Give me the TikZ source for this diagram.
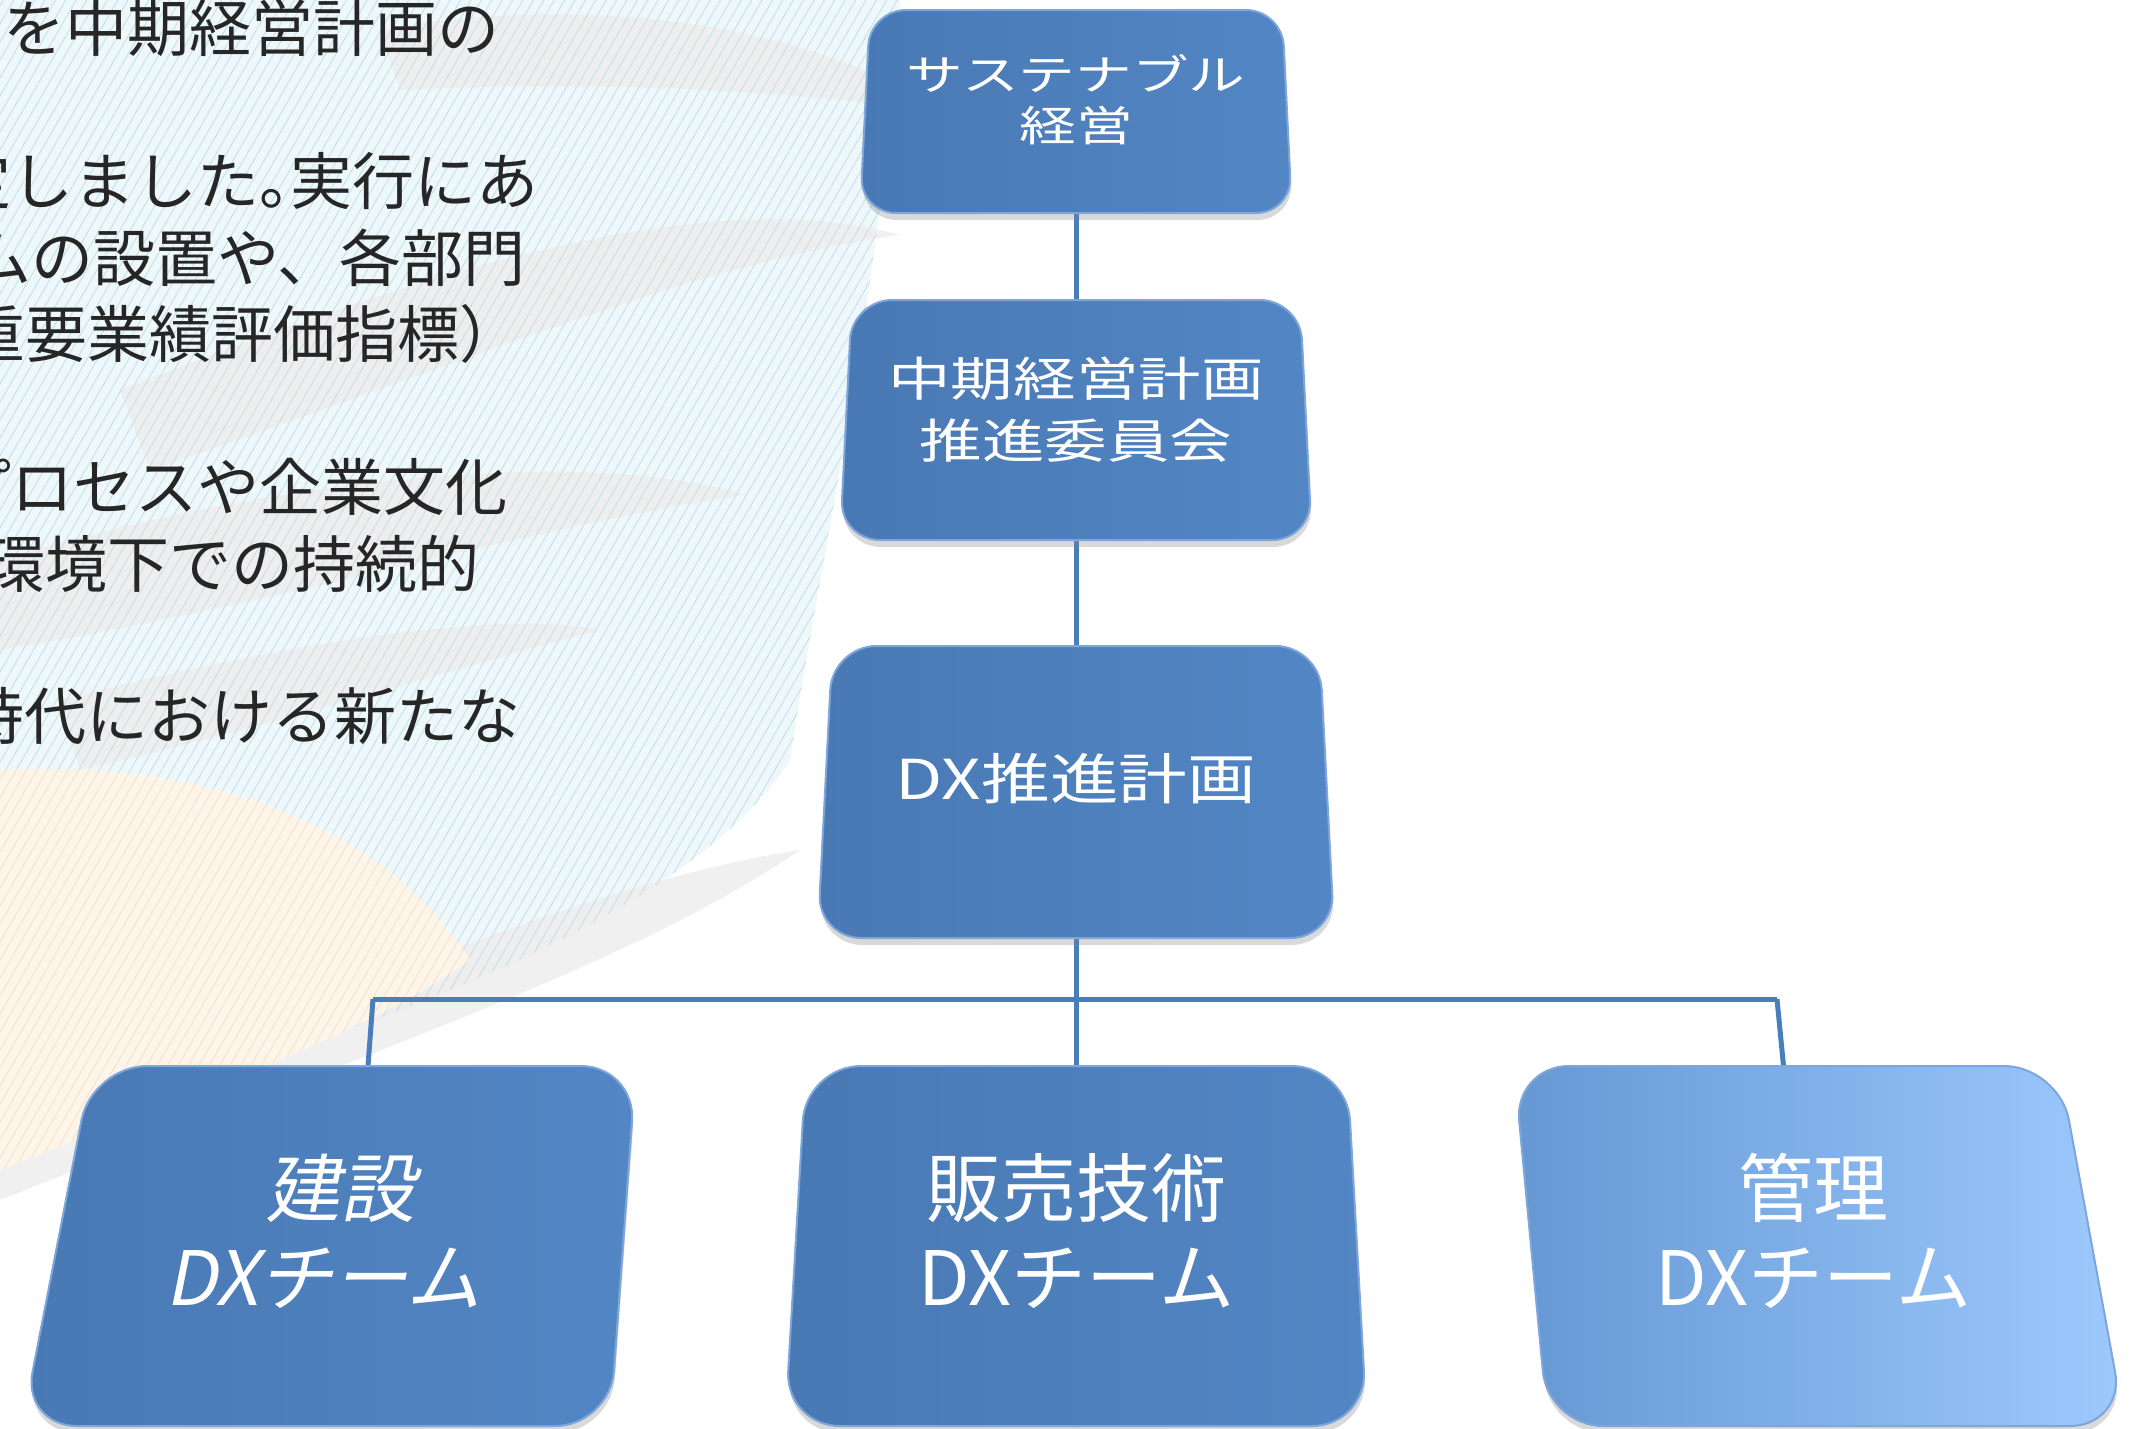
\documentclass[tikz,border=0pt]{standalone}
\usepackage{fontspec}
\setmainfont{Noto Sans CJK JP}
\usetikzlibrary{calc,shadows,patterns.meta}

\definecolor{linkblue}{HTML}{4A7EBB}
\definecolor{boxblue}{HTML}{4979B4}
\definecolor{boxblueR}{HTML}{5286C4}
\definecolor{skyL}{HTML}{6598D3}
\definecolor{skyR}{HTML}{9DC9FE}
\definecolor{rimblue}{HTML}{7EA6DA}
\definecolor{bodygray}{HTML}{262626}
\definecolor{washblue}{HTML}{EEF7F9}
\definecolor{washgray}{HTML}{EEEEEE}
\definecolor{washorange}{HTML}{FEF5EA}
\definecolor{hatchblue}{HTML}{BBDCE4}
\definecolor{hatchorange}{HTML}{F5DDBD}

% bevelled box drawn round an (invisible) node: name, tl, tr, br, bl shifts, radius, colours
\newcommand{\orgbox}[8]{%
  \path[boxbody, rounded corners=#6pt, left color=#7, right color=#8]
    ($(#1.north west)+(#2,0)$) -- ($(#1.north east)+(#3,0)$) --
    ($(#1.south east)+(#4,0)$) -- ($(#1.south west)+(#5,0)$) -- cycle;}

\begin{document}
\begin{tikzpicture}[x=1pt, y=-1pt,
  link/.style={draw=linkblue, line width=5pt},
  boxgeo/.style={inner sep=0pt, outer sep=0pt},
  boxbody/.style={drop shadow={shadow xshift=1pt, shadow yshift=-7pt, opacity=.3},
    draw=rimblue, line width=2pt},
  boxtxt/.style={text=white, align=center, inner sep=0pt},
  bodytxt/.style={text=bodygray, anchor=east, inner sep=0pt,
    font=\fontsize{62}{62}\selectfont}]
\path[use as bounding box] (0,0) rectangle (2148,1428);
\clip (0,0) rectangle (2148,1428);

%background wash
\fill[washblue] (0,0) -- (900,0) .. controls (880,300) and (820,560) .. (790,760)
  .. controls (700,900) and (450,1000) .. (200,1080) .. controls (120,1110) and (50,1140) .. (0,1150) -- cycle;
\begin{scope}[fill=washgray, opacity=.9]
\fill (380,30) .. controls (600,-10) and (820,30) .. (940,110) .. controls (760,90) and (600,80) .. (400,90) -- cycle;
\fill (120,390) .. controls (400,280) and (700,180) .. (900,235) .. controls (700,260) and (420,380) .. (150,470) -- cycle;
\fill (0,560) .. controls (300,470) and (600,450) .. (745,495) .. controls (560,520) and (300,600) .. (0,650) -- cycle;
\fill (60,700) .. controls (300,640) and (500,610) .. (600,630) .. controls (480,660) and (300,720) .. (80,770) -- cycle;
\fill (0,1160) .. controls (300,1000) and (600,880) .. (800,850) .. controls (640,960) and (400,1040) .. (0,1200) -- cycle;
\end{scope}
\fill[pattern={Lines[angle=60, distance=9pt, line width=.7pt]}, pattern color=hatchblue]
  (0,0) -- (900,0) .. controls (880,300) and (820,560) .. (790,760)
  .. controls (700,900) and (450,1000) .. (200,1080) .. controls (120,1110) and (50,1140) .. (0,1150) -- cycle;
\fill[washorange] (0,770) .. controls (200,760) and (380,820) .. (470,960)
  .. controls (360,1040) and (150,1110) .. (0,1170) -- cycle;
\fill[pattern={Lines[angle=60, distance=9pt, line width=.7pt]}, pattern color=hatchorange]
  (0,770) .. controls (200,760) and (380,820) .. (470,960)
  .. controls (360,1040) and (150,1110) .. (0,1170) -- cycle;

%text on the left
\node[bodytxt] (para1) at (500,28)    {を中期経営計画の};
\node[bodytxt] (para2) at (539,181)   {定しました{\addfontfeature{RawFeature=+halt}。}実行にあ};
\node[bodytxt] (para3) at (526,257.5) {ムの設置や、各部門};
\node[bodytxt] (para4) at (522,334)   {重要業績評価指標）};
\node[bodytxt] (para5) at (508,487)   {プロセスや企業文化};
\node[bodytxt] (para6) at (480,563.5) {環境下での持続的};
\node[bodytxt] (para7) at (521,716.5) {時代における新たな};

%box frames
\node[boxgeo, minimum width=432pt, minimum height=203pt] (sus)      at (1076,111.5) {};
\node[boxgeo, minimum width=472pt, minimum height=240pt] (cmte)     at (1076,420)   {};
\node[boxgeo, minimum width=517pt, minimum height=292pt] (dxp)      at (1076,792)   {};
\node[boxgeo, minimum width=614pt, minimum height=360pt] (kensetsu) at (329,1246)   {};
\node[boxgeo, minimum width=582pt, minimum height=360pt] (hanbai)   at (1076,1246)  {};
\node[boxgeo, minimum width=611pt, minimum height=360pt] (kanri)    at (1819.5,1246) {};

%connectors
\coordinate (forkL) at (373,999);
\coordinate (forkR) at (1777,999);
\draw[link] (sus.south) -- (cmte.north);
\draw[link] (cmte.south) -- (dxp.north);
\draw[link] (dxp.south) -- (hanbai.north);
\draw[link] (forkL) -- (forkR);
\draw[link] (forkL) -- ($(kensetsu.north)+(39,0)$);
\draw[link] (forkR) -- ($(kanri.north)+(-36,0)$);

\orgbox{sus}{10}{-10}{0}{0}{36}{boxblue}{boxblueR}
\orgbox{cmte}{12}{-12}{0}{0}{40}{boxblue}{boxblueR}
\orgbox{dxp}{15}{-15}{0}{0}{44}{boxblue}{boxblueR}
\orgbox{kensetsu}{70}{0}{-26}{0}{55}{boxblue}{boxblueR}
\orgbox{hanbai}{21}{-20}{0}{0}{55}{boxblue}{boxblueR}
\orgbox{kanri}{0}{-66}{0}{34}{55}{skyL}{skyR}

%labels
\node[boxtxt, font=\addfontfeature{FakeStretch=1.35}\fontsize{42}{51}\selectfont] (sus-t) at (1076,100) {サステナブル\\経営};
\node[boxtxt, font=\addfontfeature{FakeStretch=1.33}\fontsize{47}{62}\selectfont] (cmte-t) at (1076,410) {中期経営計画\\推進委員会};
\node[boxtxt, font=\addfontfeature{FakeStretch=1.25}\fontsize{55}{66}\selectfont] (dxp-t) at (1076,779) {DX推進計画};
\begin{scope}[shift={(338,1231)}, xslant=.2]
\node[boxtxt, transform shape, font=\fontsize{75}{89}\selectfont] (kensetsu-t) at (0,0) {建設\\DXチーム};
\end{scope}
\node[boxtxt, font=\fontsize{75}{89}\selectfont] (hanbai-t) at (1076,1231) {販売技術\\DXチーム};
\node[boxtxt, font=\fontsize{75}{89}\selectfont] (kanri-t)  at (1813,1231) {管理\\DXチーム};
\end{tikzpicture}
\end{document}
